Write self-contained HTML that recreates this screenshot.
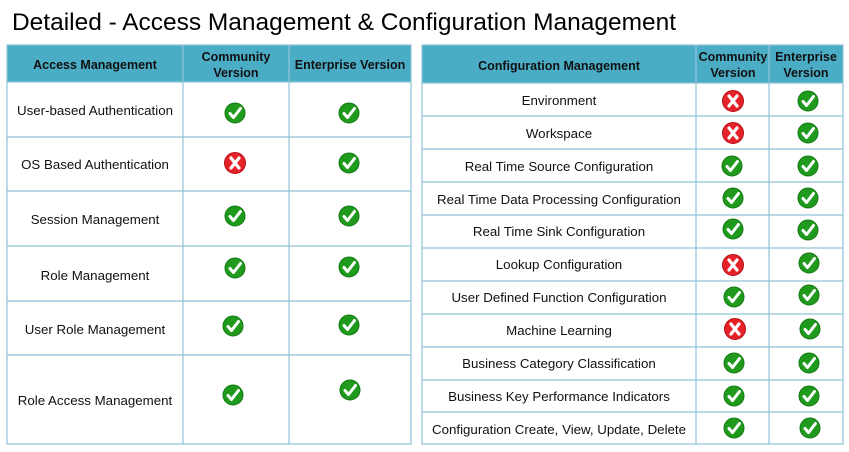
<!DOCTYPE html>
<html><head><meta charset="utf-8"><style>
html,body{margin:0;padding:0;background:#fff;}
svg{display:block;}
text{font-family:"Liberation Sans",sans-serif;}
</style></head><body>
<svg width="849" height="452" viewBox="0 0 849 452" xmlns="http://www.w3.org/2000/svg">
<defs>
<g id="ok"><circle r="10" fill="#1f9a1c"/><circle r="10" fill="none" stroke="#137a12" stroke-width="1"/><path d="M-5,0.5 L-1.5,4.5 L5.5,-4.5" fill="none" stroke="#fff" stroke-width="3" stroke-linecap="round" stroke-linejoin="round"/></g>
<g id="no"><circle r="10.5" fill="#e52228"/><circle r="10.5" fill="none" stroke="#b5141a" stroke-width="1"/><path d="M-4,-5 L4,5 M4,-5 L-4,5" stroke="#fff" stroke-width="3.2" stroke-linecap="round"/></g>
</defs>
<text x="12" y="30" font-size="24" textLength="664" lengthAdjust="spacingAndGlyphs" fill="#000">Detailed - Access Management &amp; Configuration Management</text>

<!-- Left table -->
<rect x="7" y="45" width="404" height="37" fill="#4bacc6"/>
<g stroke="#8fc3d8" stroke-width="1.2" fill="none">
<rect x="7" y="45" width="404" height="399"/>
<line x1="7" y1="82" x2="411" y2="82"/><line x1="7" y1="137" x2="411" y2="137"/><line x1="7" y1="191" x2="411" y2="191"/><line x1="7" y1="246" x2="411" y2="246"/><line x1="7" y1="301" x2="411" y2="301"/><line x1="7" y1="355" x2="411" y2="355"/>
<line x1="183" y1="45" x2="183" y2="444"/><line x1="289" y1="45" x2="289" y2="444"/>
</g>
<g font-size="12.5" font-weight="bold" fill="#111" text-anchor="middle">
<text x="95" y="69">Access Management</text>
<text x="236" y="61">Community</text><text x="236" y="77">Version</text>
<text x="350" y="69">Enterprise Version</text>
</g>
<g font-size="13.3" fill="#111" text-anchor="middle">
<text x="95" y="115">User-based Authentication</text>
<text x="95" y="169">OS Based Authentication</text>
<text x="95" y="224">Session Management</text>
<text x="95" y="280">Role Management</text>
<text x="95" y="334">User Role Management</text>
<text x="95" y="405">Role Access Management</text>
</g>
<use href="#ok" x="235" y="113"/><use href="#ok" x="349" y="113"/>
<use href="#no" x="235" y="163"/><use href="#ok" x="349" y="163"/>
<use href="#ok" x="235" y="216"/><use href="#ok" x="349" y="216"/>
<use href="#ok" x="235" y="268"/><use href="#ok" x="349" y="267"/>
<use href="#ok" x="233" y="326"/><use href="#ok" x="349" y="325"/>
<use href="#ok" x="233" y="395"/><use href="#ok" x="350" y="390"/>

<!-- Right table -->
<rect x="422" y="45" width="421" height="38" fill="#4bacc6"/>
<g stroke="#8fc3d8" stroke-width="1.2" fill="none">
<rect x="422" y="45" width="421" height="399"/>
<line x1="422" y1="83" x2="843" y2="83"/><line x1="422" y1="116" x2="843" y2="116"/><line x1="422" y1="149" x2="843" y2="149"/><line x1="422" y1="182" x2="843" y2="182"/><line x1="422" y1="215" x2="843" y2="215"/><line x1="422" y1="248" x2="843" y2="248"/><line x1="422" y1="281" x2="843" y2="281"/><line x1="422" y1="314" x2="843" y2="314"/><line x1="422" y1="347" x2="843" y2="347"/><line x1="422" y1="380" x2="843" y2="380"/><line x1="422" y1="412" x2="843" y2="412"/>
<line x1="696" y1="45" x2="696" y2="444"/><line x1="769" y1="45" x2="769" y2="444"/>
</g>
<g font-size="12.5" font-weight="bold" fill="#111" text-anchor="middle">
<text x="559" y="70">Configuration Management</text>
<text x="733" y="61">Community</text><text x="733" y="77">Version</text>
<text x="806" y="61">Enterprise</text><text x="806" y="77">Version</text>
</g>
<g font-size="13.3" fill="#111" text-anchor="middle">
<text x="559" y="105">Environment</text>
<text x="559" y="138">Workspace</text>
<text x="559" y="171">Real Time Source Configuration</text>
<text x="559" y="204">Real Time Data Processing Configuration</text>
<text x="559" y="236">Real Time Sink Configuration</text>
<text x="559" y="269">Lookup Configuration</text>
<text x="559" y="302">User Defined Function Configuration</text>
<text x="559" y="335">Machine Learning</text>
<text x="559" y="368">Business Category Classification</text>
<text x="559" y="401">Business Key Performance Indicators</text>
<text x="559" y="434">Configuration Create, View, Update, Delete</text>
</g>
<use href="#no" x="733" y="101"/><use href="#ok" x="808" y="101"/>
<use href="#no" x="733" y="133"/><use href="#ok" x="808" y="133"/>
<use href="#ok" x="732" y="166"/><use href="#ok" x="808" y="166"/>
<use href="#ok" x="733" y="198"/><use href="#ok" x="808" y="198"/>
<use href="#ok" x="733" y="229"/><use href="#ok" x="808" y="230"/>
<use href="#no" x="733" y="265"/><use href="#ok" x="809" y="263"/>
<use href="#ok" x="734" y="297"/><use href="#ok" x="809" y="295"/>
<use href="#no" x="735" y="329"/><use href="#ok" x="810" y="329"/>
<use href="#ok" x="734" y="363"/><use href="#ok" x="809" y="363"/>
<use href="#ok" x="734" y="396"/><use href="#ok" x="809" y="396"/>
<use href="#ok" x="734" y="428"/><use href="#ok" x="810" y="428"/>
</svg>
</body></html>
